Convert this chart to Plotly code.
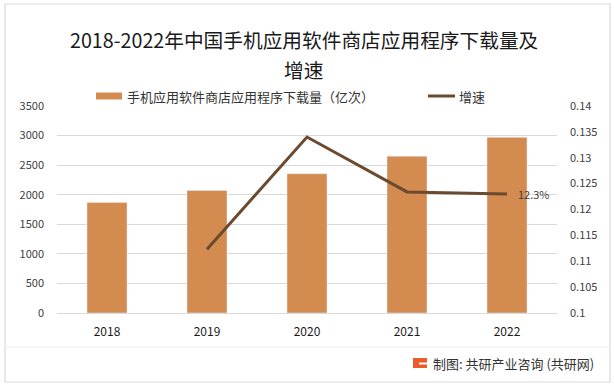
import plotly.graph_objects as go

years = ["2018", "2019", "2020", "2021", "2022"]
downloads = [1870, 2070, 2355, 2650, 2970]
growth = [None, 0.1123, 0.134, 0.1234, 0.123]
last_growth_label = "12.3%"
bar_name = "手机应用软件商店应用程序下载量（亿次）"
line_name = "增速"
title_line1 = "2018-2022年中国手机应用软件商店应用程序下载量及"
title_line2 = "增速"
source_text = "制图: 共研产业咨询 (共研网)"
left_ticks = [0, 500, 1000, 1500, 2000, 2500, 3000, 3500]
right_ticks = [0.1, 0.105, 0.11, 0.115, 0.12, 0.125, 0.13, 0.135, 0.14]
right_ticktext = ["0.1", "0.105", "0.11", "0.115", "0.12", "0.125", "0.13", "0.135", "0.14"]

BAR_COLOR = "#D38B4F"
LINE_COLOR = "#6B4A2F"
FONT = "Noto Sans CJK SC, Noto Sans, sans-serif"

W, H = 614, 387
L, R, T, B = 57, 557, 106, 313
pw, ph = R - L, B - T


def px(x):
    return (x - L) / pw


def py(y):
    return (B - y) / ph


fig = go.Figure()
fig.add_trace(go.Bar(
    x=years, y=downloads, name=bar_name, marker_color=BAR_COLOR,
    width=0.4, yaxis="y", showlegend=False, hoverinfo="skip",
))
fig.add_trace(go.Scatter(
    x=years, y=growth, name=line_name, mode="lines",
    line=dict(color=LINE_COLOR, width=3), yaxis="y2",
    showlegend=False, hoverinfo="skip",
))

shapes = [
    # outer border
    dict(type="rect", xref="paper", yref="paper", x0=px(5), x1=px(610), y0=py(382), y1=py(4),
         line=dict(color="#D9D9D9", width=1.2), fillcolor="rgba(0,0,0,0)", layer="below"),
    # footer separator
    dict(type="line", xref="paper", yref="paper", x0=px(5), x1=px(610), y0=py(347), y1=py(347),
         line=dict(color="#EEEEEE", width=1)),
    # legend swatches
    dict(type="rect", xref="paper", yref="paper", x0=px(96), x1=px(122), y0=py(99.5), y1=py(92.5),
         fillcolor=BAR_COLOR, line=dict(width=0)),
    dict(type="line", xref="paper", yref="paper", x0=px(428), x1=px(455), y0=py(96), y1=py(96),
         line=dict(color=LINE_COLOR, width=3)),
    # logo
    dict(type="rect", xref="paper", yref="paper", x0=px(413), x1=px(427), y0=py(368), y1=py(358),
         fillcolor="#EE5A2A", line=dict(width=0)),
    dict(type="rect", xref="paper", yref="paper", x0=px(419), x1=px(427), y0=py(364.5), y1=py(362.5),
         fillcolor="white", line=dict(width=0)),
]

annotations = [
    dict(text=title_line1, x=px(303.5), y=py(40), xref="paper", yref="paper", showarrow=False,
         xanchor="center", yanchor="middle", font=dict(size=19.7, color="#1a1a1a", family=FONT)),
    dict(text=title_line2, x=px(303.5), y=py(70), xref="paper", yref="paper", showarrow=False,
         xanchor="center", yanchor="middle", font=dict(size=19.7, color="#1a1a1a", family=FONT)),
    dict(text=bar_name, x=px(125), y=py(96), xref="paper", yref="paper", showarrow=False,
         xanchor="left", yanchor="middle", font=dict(size=13, color="#333333", family=FONT)),
    dict(text=line_name, x=px(457), y=py(96), xref="paper", yref="paper", showarrow=False,
         xanchor="left", yanchor="middle", font=dict(size=13, color="#333333", family=FONT)),
    dict(text=source_text, x=px(431), y=py(363), xref="paper", yref="paper", showarrow=False,
         xanchor="left", yanchor="middle", font=dict(size=13, color="#333333", family=FONT)),
    dict(text=last_growth_label, x=len(years) - 1, y=growth[-1], xref="x", yref="y2",
         showarrow=False, xanchor="left", yanchor="middle", xshift=9,
         font=dict(size=11, color="#404040", family=FONT)),
]

fig.update_layout(
    width=W, height=H,
    margin=dict(l=L, r=W - R, t=T, b=H - B, pad=0),
    paper_bgcolor="white", plot_bgcolor="white",
    font=dict(family=FONT, color="#404040"),
    bargap=0.6,
    hovermode=False,
    xaxis=dict(type="category", range=[-0.5, len(years) - 0.5], showline=True,
               linecolor="#D9D9D9", linewidth=1,
               showgrid=False, ticks="", tickfont=dict(size=12, color="#1a1a1a"),
               ticklabelstandoff=8),
    yaxis=dict(range=[0, 3500], tickvals=left_ticks, showgrid=True, gridcolor="#D9D9D9",
               gridwidth=1, zeroline=False, ticks="", tickfont=dict(size=11, color="#404040"),
               ticklabelstandoff=12),
    yaxis2=dict(range=[0.1, 0.14], tickvals=right_ticks, ticktext=right_ticktext,
                overlaying="y", side="right", showgrid=False, zeroline=False, ticks="",
                tickfont=dict(size=11, color="#404040"), ticklabelstandoff=12),
    shapes=shapes,
    annotations=annotations,
    showlegend=False,
)

fig.write_html("out.html", config={"displayModeBar": False},
               post_script="document.body.style.margin='0';")
